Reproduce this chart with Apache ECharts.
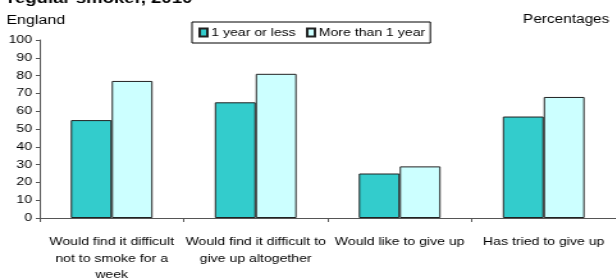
<!DOCTYPE html>
<html>
<head>
<meta charset="utf-8">
<script src="https://cdn.jsdelivr.net/npm/echarts@6/dist/echarts.min.js"></script>
<style>
  html, body { margin: 0; padding: 0; background: #fff; overflow: hidden; }
  /* the source picture is stretched sideways, so draw narrower and stretch */
  #chart { width: 481px; height: 280px; transform: scaleX(1.28); transform-origin: left top; }
</style>
</head>
<body>
<div id="chart"></div>
<script>
const categories = [
    'Would find it difficult\nnot to smoke for a\nweek',
    'Would find it difficult to\ngive up altogether',
    'Would like to give up',
    'Has tried to give up'
]
const oneYearOrLess = [55, 65, 25, 57]
const moreThanOneYear = [77, 81, 29, 68]
const yTicks = [0, 10, 20, 30, 40, 50, 60, 70, 80, 90, 100]

const chart = echarts.init(document.getElementById('chart'), null, { renderer: 'canvas' })

const barStyle = { borderColor: '#222', borderWidth: 1 }

let option = {
    animation: false,
    textStyle: { fontFamily: 'Liberation Sans, Arial, sans-serif' },
    title: [
        {
            text: 'regular smoker, 2010',
            left: 1,
            top: -14,
            textStyle: { fontSize: 14.5, fontWeight: 'bold', color: '#000' }
        },
        {
            text: 'England',
            left: 0,
            top: 9,
            textStyle: { fontSize: 12.5, fontWeight: 'normal', color: '#000' }
        },
        {
            text: 'Percentages',
            right: 0,
            top: 9,
            textStyle: { fontSize: 12, fontWeight: 'normal', color: '#000' }
        }
    ],
    legend: {
        data: ['1 year or less', 'More than 1 year'],
        left: 150,
        top: 22,
        padding: [5, 4, 5, 5],
        itemGap: 8,
        itemWidth: 6,
        itemHeight: 8,
        borderColor: '#000',
        borderWidth: 1,
        borderRadius: 0,
        icon: 'rect',
        textStyle: { fontSize: 11, color: '#000', padding: [0, 0, 0, -2] }
    },
    grid: { left: 31, right: 0, top: 40, bottom: 62, outerBoundsMode: 'none' },
    xAxis: {
        type: 'category',
        data: categories,
        axisLine: { lineStyle: { color: '#555', width: 1 } },
        axisTick: { show: true, length: 4, lineStyle: { color: '#555' } },
        axisLabel: { fontSize: 11, color: '#000', lineHeight: 16.5, margin: 16, interval: 0 }
    },
    yAxis: {
        type: 'value',
        min: 0,
        max: 100,
        interval: 10,
        splitLine: { show: false },
        axisLine: { show: true, lineStyle: { color: '#555', width: 1 } },
        axisTick: { show: true, length: 3, lineStyle: { color: '#555' } },
        axisLabel: {
            fontSize: 11,
            color: '#000',
            margin: 6,
            formatter: v => yTicks.includes(v) ? String(v) : ''
        }
    },
    series: [
        {
            name: '1 year or less',
            type: 'bar',
            data: oneYearOrLess,
            barWidth: '28.4%',
            barGap: '0%',
            itemStyle: Object.assign({ color: '#33CCCC' }, barStyle)
        },
        {
            name: 'More than 1 year',
            type: 'bar',
            data: moreThanOneYear,
            barWidth: '28.4%',
            barGap: '0%',
            itemStyle: Object.assign({ color: '#CCFFFF' }, barStyle)
        }
    ]
}

chart.setOption(option)
</script>
</body>
</html>
